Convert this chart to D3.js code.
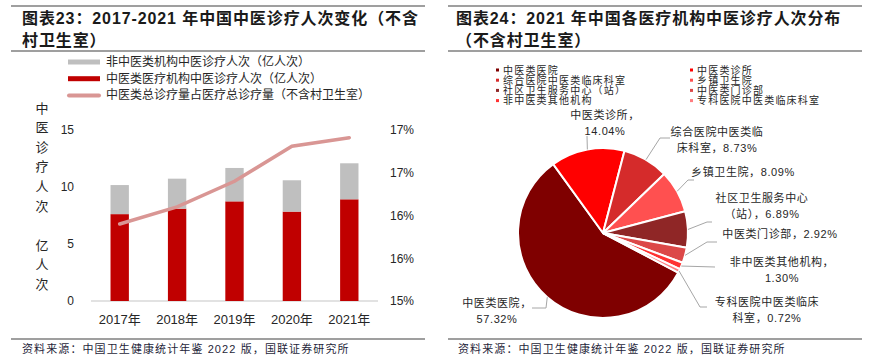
<!DOCTYPE html>
<html lang="zh">
<head>
    <meta charset="UTF-8">
    <title>中医诊疗人次</title>
    <script src="https://d3js.org/d3.v7.min.js"></script>
    <style>
        body { margin: 0; background: #fff; }
        svg { display: block; font-family: "Liberation Sans", "Noto Sans CJK SC", sans-serif; }
    </style>
</head>
<body>
    <svg width="872" height="361"></svg>

    <script>
        // chart 23 data
        const years = ['2017年', '2018年', '2019年', '2020年', '2021年'];
        const tcmInst = [7.62, 8.10, 8.74, 7.84, 8.92];      // 中医类医疗机构
        const nonTcmInst = [2.55, 2.63, 2.93, 2.75, 3.16];   // 非中医类机构
        const share = [0.1590, 0.1610, 0.1640, 0.1681, 0.1691];
        const leftTicks = [0, 5, 10, 15];
        const rightTicks = [0.15, 0.155, 0.16, 0.165, 0.17];
        const legend23 = ['非中医类机构中医诊疗人次（亿人次）', '中医类医疗机构中医诊疗人次（亿人次）', '中医类总诊疗量占医疗总诊疗量（不含村卫生室）'];

        // chart 24 data
        const orgs = ['中医类医院', '中医类诊所', '综合医院中医类临床科室', '乡镇卫生院',
            '社区卫生服务中心（站）', '中医类门诊部', '非中医类其他机构', '专科医院中医类临床科室'];
        const orgShare = [57.32, 14.04, 8.73, 8.09, 6.89, 2.92, 1.30, 0.72];
        const pieLabels = [['中医类医院，', '57.32%'], ['中医类诊所，', '14.04%'], ['综合医院中医类临', '床科室，8.73%'],
            ['乡镇卫生院，8.09%'], ['社区卫生服务中心', '（站），6.89%'], ['中医类门诊部，2.92%'],
            ['非中医类其他机构，', '1.30%'], ['专科医院中医类临床', '科室，0.72%']];

        const svg = d3.select('svg');
        const txt = '#262626';

        // frames: rules, titles, sources
        const panels = [
            { x0: 11, x1: 425, tx: 22, title: ['图表23：2017-2021 年中国中医诊疗人次变化（不含', '村卫生室）'] },
            { x0: 448, x1: 862, tx: 458, title: ['图表24：2021 年中国各医疗机构中医诊疗人次分布', '（不含村卫生室）'] }
        ];
        panels.forEach(p => {
            [6, 51, 339].forEach(y => svg.append('line')
                .attr('x1', p.x0).attr('x2', p.x1).attr('y1', y).attr('y2', y)
                .attr('stroke', '#7f7f7f').attr('stroke-width', 1.5));
            p.title.forEach((t, i) => svg.append('text')
                .attr('x', p.x0 === 11 ? p.tx : p.tx - 2).attr('y', 24 + i * 22)
                .attr('font-size', 16).attr('font-weight', 'bold')
                .attr('letter-spacing', 0.9).attr('fill', '#1a1a1a').text(t));
            svg.append('text')
                .attr('x', p.tx).attr('y', 353)
                .attr('font-size', 11).attr('letter-spacing', 1.1)
                .attr('fill', '#1f1f3a').text('资料来源：中国卫生健康统计年鉴 2022 版，国联证券研究所');
        });

        // ---------- chart 23 ----------
        const x = d3.scaleBand().domain(years).range([91, 378]).paddingInner(0.68).paddingOuter(0.34);
        const y = d3.scaleLinear().domain([0, 15]).range([301, 130]);
        const y2 = d3.scaleLinear().domain([0.15, 0.17]).range([301, 130]);

        svg.append('line')
            .attr('x1', 91).attr('x2', 378).attr('y1', y(0)).attr('y2', y(0))
            .attr('stroke', '#d9d9d9').attr('stroke-width', 1.5);

        const g23 = svg.append('g');
        g23.selectAll('.red').data(years).join('rect')
            .attr('x', d => x(d)).attr('width', x.bandwidth())
            .attr('y', (d, i) => y(tcmInst[i])).attr('height', (d, i) => y(0) - y(tcmInst[i]))
            .attr('fill', '#c00000');
        g23.selectAll('.grey').data(years).join('rect')
            .attr('x', d => x(d)).attr('width', x.bandwidth())
            .attr('y', (d, i) => y(tcmInst[i] + nonTcmInst[i]))
            .attr('height', (d, i) => y(tcmInst[i]) - y(tcmInst[i] + nonTcmInst[i]))
            .attr('fill', '#bfbfbf');

        const line = d3.line()
            .x((d, i) => x(years[i]) + x.bandwidth() / 2)
            .y(d => y2(d));
        svg.append('path').datum(share)
            .attr('d', line).attr('fill', 'none')
            .attr('stroke', '#d99694').attr('stroke-width', 3.5).attr('stroke-linecap', 'round');

        const axL = svg.append('g').attr('transform', 'translate(74,0)')
            .call(d3.axisLeft(y).tickValues(leftTicks).tickSize(0).tickPadding(0));
        const axR = svg.append('g').attr('transform', 'translate(390,0)')
            .call(d3.axisRight(y2).tickValues(rightTicks).tickFormat(d3.format('.0%')).tickSize(0).tickPadding(0));
        const axB = svg.append('g').attr('transform', `translate(0,${y(0)})`)
            .call(d3.axisBottom(x).tickSize(0).tickPadding(14));
        [axL, axR, axB].forEach(a => {
            a.select('.domain').remove();
            a.selectAll('text').attr('font-size', 12).attr('fill', txt)
                .attr('font-family', '"Liberation Sans", "Noto Sans CJK SC", sans-serif');
        });
        axB.selectAll('text').attr('font-size', 13);

        // vertical axis title
        const ytitle = ['中', '医', '诊', '疗', '人', '次', '亿', '人', '次'];
        const slot = [0, 1, 2, 3, 4, 5, 7, 8, 9];
        svg.append('g').selectAll('text').data(ytitle).join('text')
            .attr('x', 42).attr('y', (d, i) => 108 + slot[i] * 19.6)
            .attr('dominant-baseline', 'central').attr('text-anchor', 'middle')
            .attr('font-size', 13).attr('fill', txt).text(d => d);

        // legend 23
        const lg = svg.append('g');
        const lgColors = ['#bfbfbf', '#c00000', '#d99694'];
        legend23.forEach((t, i) => {
            const yy = 62 + i * 16.7;
            if (i < 2) {
                lg.append('rect').attr('x', 68).attr('y', yy - 2.5).attr('width', 32).attr('height', 5).attr('fill', lgColors[i]);
            } else {
                lg.append('line').attr('x1', 69).attr('x2', 99).attr('y1', yy).attr('y2', yy)
                    .attr('stroke', lgColors[i]).attr('stroke-width', 4).attr('stroke-linecap', 'round');
            }
            lg.append('text').attr('x', 106).attr('y', yy).attr('dominant-baseline', 'central')
                .attr('font-size', 12).attr('fill', txt).text(t);
        });

        // ---------- chart 24 ----------
        const cx = 603, cy = 233, r = 85;
        const colors = ['#7f0000', '#ff0000', '#d52b2b', '#ff5050', '#8f2626', '#dc4848', '#ff3333', '#ff7c80'];
        const start = 117.8 * Math.PI / 180;
        const pie = d3.pie().sort(null).value(d => d).startAngle(start).endAngle(start + 2 * Math.PI);
        const arcs = pie(orgShare);
        const arc = d3.arc().innerRadius(0).outerRadius(r);
        const edge = d3.arc().innerRadius(r).outerRadius(r);

        const g24 = svg.append('g').attr('transform', `translate(${cx},${cy})`);
        g24.selectAll('path').data(arcs).join('path')
            .attr('d', arc).attr('fill', (d, i) => colors[i])
            .attr('stroke', '#fff').attr('stroke-width', 2).attr('stroke-linejoin', 'round');

        // label layout: elbow point, line end, text centre, first line y (relative to pie centre)
        const layout = [
            { e: [-57, 75], end: [-71, 75], t: [-106, 70] },
            { e: [-16, -97], end: [-16, -97], t: [2, -118] },
            { e: [57, -95], end: [67, -95], t: [114, -101] },
            { e: [85, -53], end: [91, -53], t: [140, -61] },
            { e: [104, -11], end: [109, -11], t: [159, -35] },
            { e: [104, 9], end: [114, 9], t: [177, 1] },
            { e: [112, 34], end: [112, 34], t: [179, 29] },
            { e: [97, 74], end: [104, 74], t: [164, 69] }
        ];
        arcs.forEach((d, i) => {
            const p0 = edge.centroid(d);
            const L = layout[i];
            g24.append('polyline')
                .attr('points', [p0, L.e, L.end].map(p => p.join(',')).join(' '))
                .attr('fill', 'none').attr('stroke', '#a6a6a6').attr('stroke-width', 1);
            pieLabels[i].forEach((s, j) => g24.append('text')
                .attr('x', L.t[0]).attr('y', L.t[1] + j * 15.5)
                .attr('text-anchor', 'middle').attr('dominant-baseline', 'central')
                .attr('font-size', 11).attr('letter-spacing', 0.6).attr('fill', txt).text(s));
        });

        // legend 24
        const lg2 = svg.append('g');
        orgs.forEach((t, i) => {
            const col = i % 2, row = Math.floor(i / 2);
            const lx = col === 0 ? 496 : 690, ly = 70 + row * 10.2;
            lg2.append('rect').attr('x', lx).attr('y', ly - 1.5).attr('width', 3).attr('height', 3).attr('fill', colors[i]);
            lg2.append('text').attr('x', lx + 7).attr('y', ly).attr('dominant-baseline', 'central')
                .attr('font-size', 10).attr('letter-spacing', 1.2).attr('fill', txt).text(t);
        });
    </script>
</body>
</html>
